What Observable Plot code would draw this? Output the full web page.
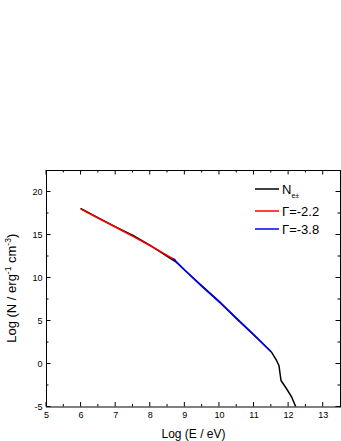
<!DOCTYPE html>
<html><head><meta charset="utf-8">
<script src="https://cdn.jsdelivr.net/npm/d3@7"></script>
<script src="https://cdn.jsdelivr.net/npm/@observablehq/plot@0.6"></script>
<style>body{margin:0;background:#fff;}</style>
</head><body><div id="chart"></div>
<script>
// Tick values
const xTicks = [5, 6, 7, 8, 9, 10, 11, 12, 13];
const xMinorTicks = [5.5, 6.5, 7.5, 8.5, 9.5, 10.5, 11.5, 12.5];
const yTicks = [-5, 0, 5, 10, 15, 20];
const yMinorTicks = [-2.5, 2.5, 7.5, 12.5, 17.5];

// Series: N_e± (black)
const nX = [6.0, 6.5, 7.0, 7.5, 8.0, 8.5, 8.75, 9.0, 9.5, 10.0, 10.5, 11.0, 11.5, 11.65, 11.72, 11.78, 11.94, 12.09, 12.21, 12.3];
const nY = [18.05, 17.0, 15.95, 14.95, 13.8, 12.5, 11.85, 10.9, 9.05, 7.25, 5.25, 3.35, 1.4, 0.41, -0.17, -1.92, -2.88, -3.86, -5.0, -5.8];
// Series: Γ=-2.2 (red)
const rX = [6.0, 6.5, 7.0, 7.5, 8.0, 8.5, 8.72];
const rY = [18.0, 16.95, 15.9, 14.85, 13.75, 12.6, 12.1];
// Series: Γ=-3.8 (blue)
const bX = [8.68, 9.0, 9.5, 10.0, 10.5, 11.0, 11.47];
const bY = [12.2, 10.9, 9.0, 7.2, 5.3, 3.4, 1.55];

const legendLabels = ["N", "\u0393=-2.2", "\u0393=-3.8"];
const legendColors = ["black", "red", "blue"];

const toPts = (xs, ys) => xs.map((x, i) => ({x, y: ys[i]}));
const nData = toPts(nX, nY), rData = toPts(rX, rY), bData = toPts(bX, bY);

const FONT = "'Liberation Sans', Arial, sans-serif";

function decor(index, scales, values, dimensions) {
  const sx = scales.x, sy = scales.y;
  const {width, height, marginLeft: L, marginRight: R, marginTop: T, marginBottom: B} = dimensions;
  const right = width - R, bottom = height - B;
  const g = d3.create("svg:g");
  const t = g.append("g").attr("stroke", "black").attr("stroke-width", 1);
  const maj = 4.5, mnr = 2.5;
  for (const [vals, len] of [[xTicks, maj], [xMinorTicks, mnr]]) {
    for (const v of vals) {
      const px = sx(v);
      t.append("line").attr("x1", px).attr("x2", px).attr("y1", bottom).attr("y2", bottom - len);
      t.append("line").attr("x1", px).attr("x2", px).attr("y1", T).attr("y2", T + len);
    }
  }
  for (const [vals, len] of [[yTicks, maj], [yMinorTicks, mnr]]) {
    for (const v of vals) {
      const py = sy(v);
      t.append("line").attr("y1", py).attr("y2", py).attr("x1", L).attr("x2", L + len);
      t.append("line").attr("y1", py).attr("y2", py).attr("x1", right).attr("x2", right - len);
    }
  }
  // Y title
  const yt = g.append("text").attr("transform", `translate(15.5,${(T + bottom) / 2}) rotate(-90)`)
    .attr("text-anchor", "middle").attr("font-size", 13).attr("font-family", FONT).attr("fill", "black");
  yt.append("tspan").text("Log (N / erg");
  yt.append("tspan").attr("dy", -5).attr("font-size", 8.5).text("-1");
  yt.append("tspan").attr("dy", 5).text(" cm");
  yt.append("tspan").attr("dy", -5).attr("font-size", 8.5).text("-3");
  yt.append("tspan").attr("dy", 5).text(")");
  // Legend
  const rowsY = [T + 19, T + 41, T + 59];
  legendLabels.forEach((lab, i) => {
    g.append("line").attr("x1", right - 85).attr("x2", right - 61)
      .attr("y1", rowsY[i]).attr("y2", rowsY[i]).attr("stroke", legendColors[i]).attr("stroke-width", 1.5);
    const tx = g.append("text").attr("x", right - 58).attr("y", rowsY[i] + 4.7)
      .attr("text-anchor", "start")
      .attr("font-size", 13).attr("font-family", FONT).attr("fill", "black");
    tx.append("tspan").text(lab);
    if (i === 0) tx.append("tspan").attr("dy", 4).attr("font-size", 7).text("e\u00b1");
  });
  return g.node();
}

const chart = Plot.plot({
  width: 341,
  height: 441,
  marginLeft: 46,
  marginRight: 1,
  marginTop: 170,
  marginBottom: 34.5,
  style: {fontFamily: FONT, background: "white", color: "black"},
  x: {domain: [5, 13.5]},
  y: {domain: [-5, 22.5]},
  marks: [
    Plot.frame({stroke: "black", strokeWidth: 1}),
    Plot.axisX({ticks: xTicks, tickSize: 0, tickPadding: 5, fontSize: 9, label: null, tickFormat: d => String(d)}),
    Plot.axisY({ticks: yTicks, tickSize: 0, tickPadding: 4, fontSize: 9, label: null, tickFormat: d => String(d)}),
    Plot.text(["Log (E / eV)"], {frameAnchor: "bottom", dy: 30.5, fontSize: 12, fill: "black", lineAnchor: "bottom"}),
    Plot.line(nData, {x: "x", y: "y", stroke: "black", strokeWidth: 1.5, clip: true}),
    Plot.line(rData, {x: "x", y: "y", stroke: "red", strokeWidth: 1.5}),
    Plot.line(bData, {x: "x", y: "y", stroke: "blue", strokeWidth: 1.5}),
    decor
  ]
});
document.getElementById("chart").appendChild(chart);
</script>
</body></html>
